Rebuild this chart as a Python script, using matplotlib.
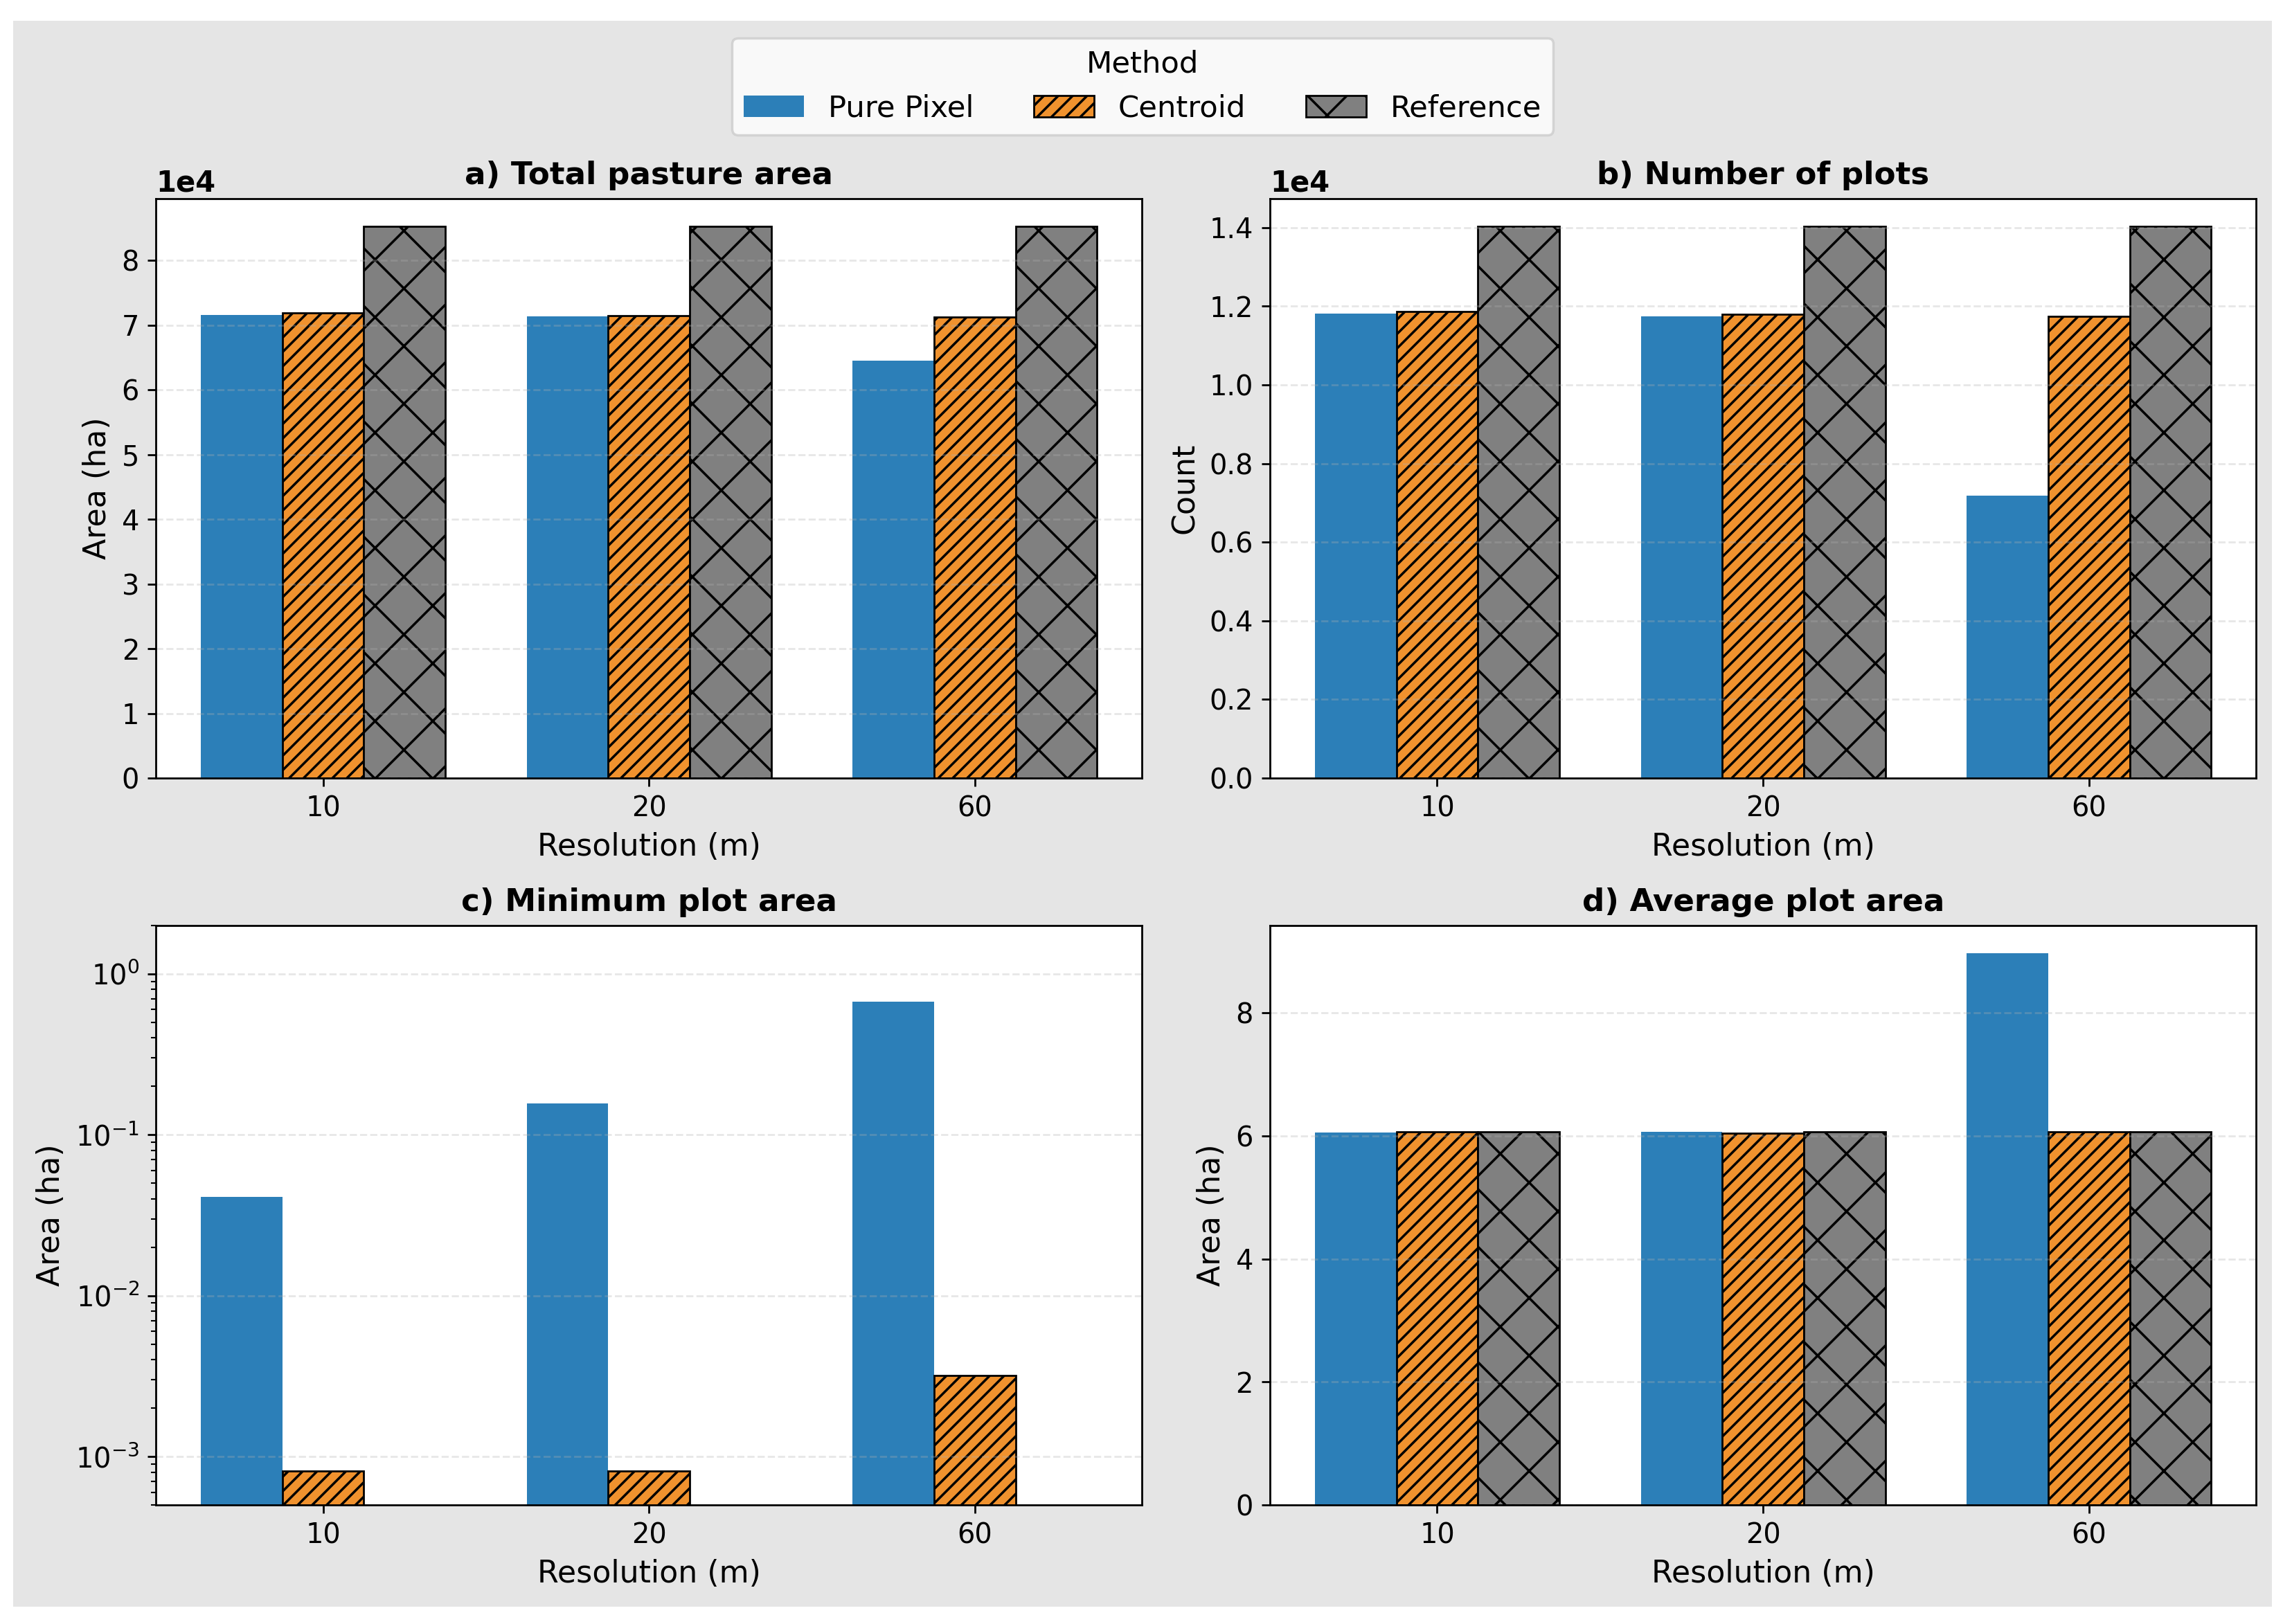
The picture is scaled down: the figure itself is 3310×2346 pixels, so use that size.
import matplotlib
matplotlib.use('Agg')
import matplotlib.pyplot as plt
import numpy as np
from matplotlib.patches import Rectangle

resolutions = ['10', '20', '60']
methods = ['Pure Pixel', 'Centroid', 'Reference']
colors = ['#2c7fb8', '#f0922e', '#808080']
hatches = ['', '////', 'x']

# a) total pasture area (ha)
total_pure = [71600, 71400, 64500]
total_centroid = [71900, 71500, 71250]
total_reference = [85300, 85300, 85300]

# b) number of plots
plots_pure = [11806, 11742, 7190]
plots_centroid = [11866, 11800, 11736]
plots_reference = [14035, 14035, 14035]

# c) minimum plot area (ha), reference not shown on log axis
min_pure = [0.0411, 0.157, 0.672]
min_centroid = [0.00081, 0.00081, 0.0032]
min_reference = [0.0, 0.0, 0.0]

# d) average plot area (ha)
avg_pure = [6.05, 6.07, 8.97]
avg_centroid = [6.07, 6.04, 6.07]
avg_reference = [6.07, 6.07, 6.07]

panels = [
    ('a) Total pasture area', 'Area (ha)', [total_pure, total_centroid, total_reference]),
    ('b) Number of plots', 'Count', [plots_pure, plots_centroid, plots_reference]),
    ('c) Minimum plot area', 'Area (ha)', [min_pure, min_centroid, min_reference]),
    ('d) Average plot area', 'Area (ha)', [avg_pure, avg_centroid, avg_reference]),
]

fig, axes = plt.subplots(2, 2, figsize=(13.24, 9.384), dpi=250)
fig.patch.set_facecolor('white')
fig.add_artist(Rectangle((0.0057, 0.0107), 0.9855, 0.9765, transform=fig.transFigure,
                         facecolor='#e5e5e5', edgecolor='none', zorder=-1))
plt.subplots_adjust(left=0.0681, right=0.9843, top=0.8777, bottom=0.0733,
                    wspace=0.130, hspace=0.2545)

x = np.arange(len(resolutions))
width = 0.25

for ax, (title, ylabel, series) in zip(axes.flat, panels):
    ax.set_facecolor('white')
    for i, vals in enumerate(series):
        if i == 0:
            ax.bar(x + (i - 1) * width, vals, width, color=colors[i], label=methods[i])
        else:
            ax.bar(x + (i - 1) * width, vals, width, color=colors[i], hatch=hatches[i],
                   edgecolor='black', linewidth=0.8, label=methods[i])
    ax.set_xticks(x)
    ax.set_xticklabels(resolutions)
    ax.set_xlabel('Resolution (m)', fontsize=12.75)
    ax.set_ylabel(ylabel, fontsize=12.75)
    ax.set_title(title, fontsize=13, fontweight='bold')
    ax.tick_params(labelsize=11.5)
    ax.grid(axis='y', linestyle='--', alpha=0.3)

for ax in [axes[0, 0], axes[0, 1]]:
    ax.ticklabel_format(style='sci', axis='y', scilimits=(0, 0))
    ax.yaxis.get_offset_text().set_fontsize(12)
    ax.yaxis.get_offset_text().set_fontweight('bold')

axes[1, 0].set_yscale('log')
axes[1, 0].set_ylim(5e-4, 2)

handles, labels = axes[0, 0].get_legend_handles_labels()
fig.legend(handles, labels, loc='upper center', bbox_to_anchor=(0.4985, 0.986), ncol=3,
           title='Method', fontsize=12.5, title_fontsize=12.5)

fig.savefig('out.png', dpi=250, facecolor=fig.get_facecolor())
